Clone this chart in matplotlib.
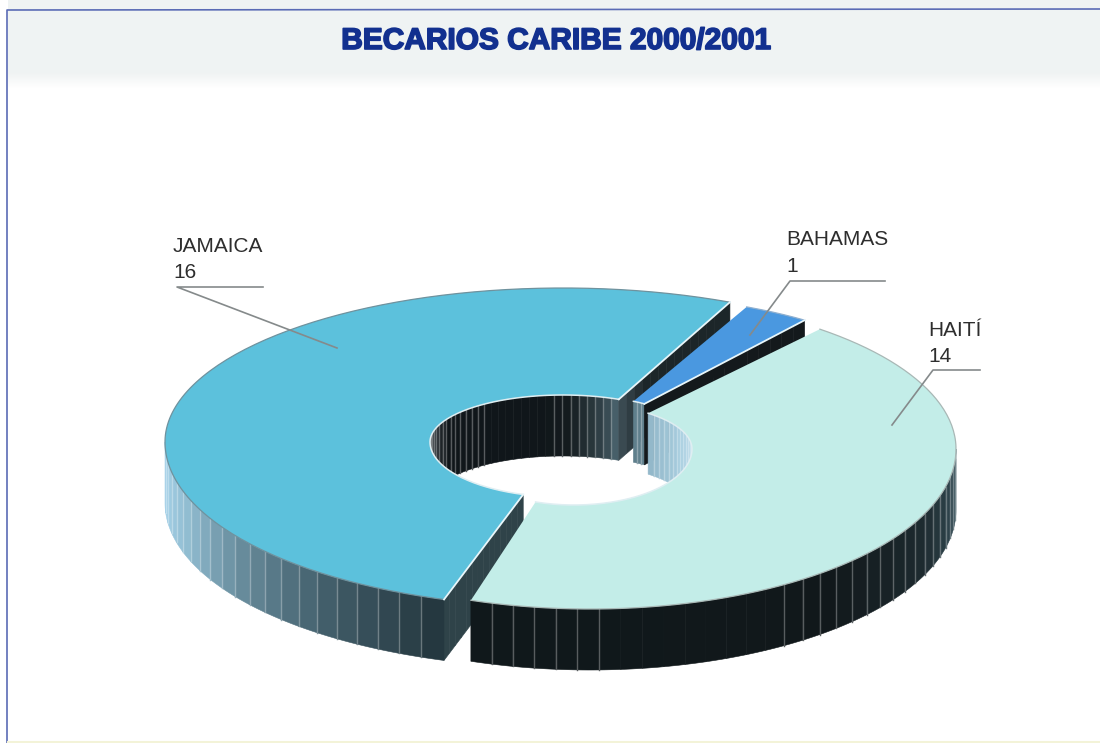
import numpy as np
import matplotlib

matplotlib.use('Agg')
import matplotlib.pyplot as plt
import matplotlib.patheffects as pe
from matplotlib.colors import to_rgb

plt.rcParams['font.family'] = ['Liberation Sans', 'DejaVu Sans']

countries = ["JAMAICA", "BAHAMAS", "HAITÍ"]
scholars = [16, 1, 14]
title = "BECARIOS CARIBE 2000/2001"

START_ANGLE = 65.2
DEPTH = 61

# each slice has its own ellipse because of the exploded view / perspective
# outer ring: cx, cy, rx, ry back, ry front
outer_rings = [(563, 442, 398, 154, 165), (607, 424, 333, 129, 129), (590, 449, 366, 154, 160)]
# hole: cx, cy, rx, ry back, ry front
hole_rings = [(563, 442, 133, 47, 55), (607, 424, 63, 25, 25), (574, 449, 118, 46, 56)]
# the original is in perspective, so the cuts sit a bit off the true angles
angle_nudge = [(0, 1.6), (0, 0), (0, -2.5)]

top_colors = ["#5cc1dc", "#4a98e0", "#c3ede8"]
rim_colors = ["#6f929e", "#8fb0d0", "#a9b8b6"]
outer_stops = [
    ([180, 200, 215, 235, 253], ["#a9d6ee", "#90bcd0", "#6a8e9f", "#3f5a66", "#22343b"]),
    ([0, 1], ["#222222", "#222222"]),
    ([-109, -50, -25, 0], ["#10181b", "#11181b", "#1d2a2f", "#3d5862"]),
]
inner_stops = [
    ([65, 72, 88, 100, 150, 170, 180], ["#4f6a75", "#33454c", "#141b1e", "#10161a", "#10161a", "#3a4145", "#55585c"]),
    ([53, 66], ["#5f7f8c", "#5f7f8c"]),
    ([0, 25, 54], ["#c4e0ee", "#a9cfe0", "#8fb4c6"]),
]
face_colors = [("#3a4a51", "#1c2629"), ("#14191c", "#14191c"), ("#222222", "#222222")]
high_face_colors = ["#2f4349", "#333333", "#333333"]
stripe_skip = [(96, 123), None, (-88, -60)]

# text and leader lines
label_pos = [(173, 252), (786, 245), (928, 336)]
value_pos = [(173, 278), (786, 272), (928, 362)]
leaders = [
    ([263, 177, 337], [287, 287, 348]),
    ([885, 790, 750], [281, 281, 335]),
    ([980, 933, 892], [370, 370, 425]),
]


def ring_xy(ring, ang):
    cx, cy, rx, ry_back, ry_front = ring
    a = np.radians(ang)
    s = np.sin(a)
    ry = np.where(s >= 0, ry_back, ry_front)
    return cx + rx * np.cos(a), cy - ry * s


def shade(stops, ang):
    xs, cols = stops
    rgb = np.array([to_rgb(c) for c in cols])
    return tuple(np.interp(ang, xs, rgb[:, i]) for i in range(3))


def draw_wall(ax, ring, a0, a1, stops, step=3.4, skip=None):
    if a1 <= a0:
        return
    n = max(1, int(round((a1 - a0) / step)))
    edges = np.linspace(a0, a1, n + 1)
    for lo, hi in zip(edges[:-1], edges[1:]):
        ang = np.linspace(lo, hi, 5)
        x, y = ring_xy(ring, ang)
        col = shade(stops, (lo + hi) / 2)
        ax.fill(np.r_[x, x[::-1]], np.r_[y, y[::-1] + DEPTH], color=col, lw=0.4, zorder=2)
    for e in edges[1:-1]:
        if skip and skip[0] < e < skip[1]:
            continue
        x, y = ring_xy(ring, e)
        c = np.array(shade(stops, e))
        c = c + (1 - c) * 0.3
        ax.plot([x, x], [y, y + DEPTH], color=tuple(c), lw=1.0, zorder=2)


def draw_face(ax, outer, hole, ang, col_in, col_out, n=14):
    xo, yo = ring_xy(outer, ang)
    xi, yi = ring_xy(hole, ang)
    t = np.linspace(0, 1, n + 1)
    ci, co = np.array(to_rgb(col_in)), np.array(to_rgb(col_out))
    for t0, t1 in zip(t[:-1], t[1:]):
        x0, y0 = xi + (xo - xi) * t0, yi + (yo - yi) * t0
        x1, y1 = xi + (xo - xi) * t1, yi + (yo - yi) * t1
        col = tuple(ci + (co - ci) * min(1, t0 * 5))
        ax.fill([x0, x1, x1, x0], [y0, y1, y1 + DEPTH, y0 + DEPTH], color=col, lw=0.4, zorder=2)


def draw_slice(ax, i, low, high):
    outer, hole = outer_rings[i], hole_rings[i]
    skip = stripe_skip[i]

    # inner wall, only the far side of the hole shows
    inner_skip = skip if i == 0 else None
    draw_wall(ax, hole, max(low, 0), min(high, 180), inner_stops[i], step=3.6, skip=inner_skip)

    # cut faces, only those turned to the viewer
    if np.sin(np.radians(low - 90)) < 0:
        draw_face(ax, outer, hole, low, *face_colors[i])
    if np.sin(np.radians(high + 90)) < 0:
        draw_face(ax, outer, hole, high, high_face_colors[i], high_face_colors[i])

    # outer wall, front half only
    front_lo, front_hi = low, high
    if i == 0:
        front_lo = max(low, 180)
    elif i == 2:
        front_hi = min(high, 0)
    else:
        front_hi = front_lo
    outer_skip = skip if i == 2 else None
    draw_wall(ax, outer, front_lo, front_hi, outer_stops[i], skip=outer_skip)

    # top of the slice
    ang = np.linspace(low, high, 160)
    xo, yo = ring_xy(outer, ang)
    xi, yi = ring_xy(hole, ang[::-1])
    ax.fill(np.r_[xo, xi], np.r_[yo, yi], color=top_colors[i], lw=0, zorder=3)
    ax.plot(xo, yo, color=rim_colors[i], lw=0.9, zorder=3)
    ax.plot(xi, yi, color="#dfeef2", lw=1.1, zorder=3)

    # light edge on the cuts
    if i < 2:
        cut = [low] if i == 1 else [low, high]
        for a in cut:
            x0, y0 = ring_xy(hole, a)
            x1, y1 = ring_xy(outer, a)
            ax.plot([x0, x1], [y0, y1], color="#e8f6fa", lw=1.3, zorder=3)


def main():
    fig = plt.figure(figsize=(11, 7.43), dpi=100)
    ax = fig.add_axes([0, 0, 1, 1])

    # header band fading into the white page
    band = np.ones((90, 1, 3))
    fade = np.clip((88 - np.arange(90)) / 16, 0, 1)
    for c in range(3):
        band[:, 0, c] = 1 - (1 - np.array(to_rgb("#eff3f3"))[c]) * fade
    ax.imshow(band, extent=[8, 1100, 90, 0], aspect='auto', zorder=0)

    # frame
    ax.plot([7, 7, 1100], [743, 10, 9], color="#5a6bb5", lw=1.2, zorder=1)
    ax.plot([8, 1100], [742, 742], color="#f3f3d8", lw=1.5, zorder=1)

    ax.text(556, 41, title, color="#12308f", fontsize=21.5, fontweight='bold', ha='center', va='center',
            path_effects=[pe.withStroke(linewidth=1.2, foreground="#12308f")], zorder=5)

    # slices go clockwise from the start angle
    total = sum(scholars)
    spans = [360 * v / total for v in scholars]
    bounds = [
        (START_ANGLE, START_ANGLE + spans[0]),
        (START_ANGLE - spans[1], START_ANGLE),
        (START_ANGLE - spans[1] - spans[2], START_ANGLE - spans[1]),
    ]
    for i, (low, high) in enumerate(bounds):
        draw_slice(ax, i, low + angle_nudge[i][0], high + angle_nudge[i][1])

    for i in range(3):
        ax.text(label_pos[i][0], label_pos[i][1], countries[i], fontsize=15, color="#2e2e2e", ha='left', va='baseline', zorder=5)
        ax.text(value_pos[i][0], value_pos[i][1], str(scholars[i]), fontsize=15, color="#2e2e2e", ha='left', va='baseline', zorder=5)
        ax.plot(leaders[i][0], leaders[i][1], color="#858a8b", lw=1.2, zorder=4)

    ax.set_xlim(0, 1100)
    ax.set_ylim(743, 0)
    ax.axis('off')
    fig.savefig("out.png", dpi=100, facecolor="white")


if __name__ == "__main__":
    main()
